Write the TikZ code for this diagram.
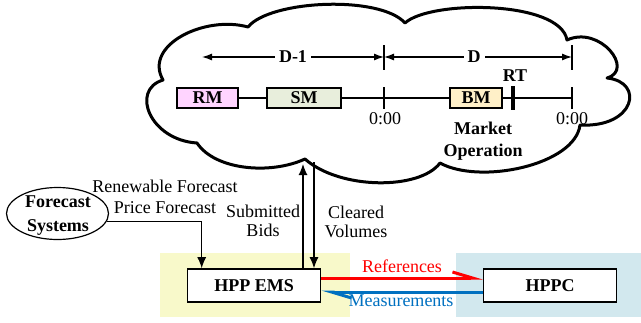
\documentclass[tikz,border=0pt]{standalone}
\usepackage{fontspec}
\setmainfont{Liberation Serif}
\usepackage{tikz}
\usetikzlibrary{arrows.meta,shapes.geometric,calc}

\definecolor{rmpink}{RGB}{255,212,255}
\definecolor{smgreen}{RGB}{232,238,220}
\definecolor{bmgold}{RGB}{255,240,200}
\definecolor{emsyellow}{RGB}{248,249,202}
\definecolor{hppcblue}{RGB}{210,232,238}
\definecolor{measblue}{RGB}{0,112,192}

\begin{document}
\begin{tikzpicture}[x=0.5pt, y=-0.5pt, font=\fontsize{9}{11}\selectfont,
    mkt/.style={draw, line width=0.6pt, minimum height=10pt, inner sep=0pt, font=\fontsize{9}{11}\selectfont\bfseries},
    unit/.style={draw, line width=0.8pt, fill=white, minimum width=66.5pt, minimum height=16.5pt, font=\fontsize{9}{11}\selectfont\bfseries},
    arr/.style={-{Latex[length=5.5pt,width=4.5pt]}, line width=0.6pt},
    dim/.style={{Latex[length=5pt,width=3.5pt]}-{Latex[length=5pt,width=3.5pt]}, line width=0.6pt},
    sig/.style={line width=1.5pt, -{Straight Barb[left,length=10pt,width=6pt]}},
    lbl/.style={align=center, font=\fontsize{9}{9.5}\selectfont}]
    \useasboundingbox (0,0) rectangle (641,322);
    \fill[emsyellow] (160,253) rectangle (350,317);
    \fill[hppcblue] (456,253) rectangle (641,317);

    % market cloud
    \draw[line width=1.5pt, line join=round, fill=white] (163,80)
        .. controls (143,45) and (205,15) .. (248,27)
        .. controls (270,0) and (380,-5) .. (405,23)
        .. controls (430,0) and (560,0) .. (567,40)
        .. controls (600,25) and (635,70) .. (607,78)
        .. controls (645,82) and (635,128) .. (580,125)
        .. controls (575,165) and (480,185) .. (440,163)
        .. controls (420,190) and (340,190) .. (305,159)
        .. controls (270,175) and (215,170) .. (197,143)
        .. controls (150,140) and (130,90) .. (163,80) -- cycle;

    % time line
    \node[mkt, fill=rmpink, minimum width=30.5pt] (rm) at (207.5,98) {RM};
    \node[mkt, fill=smgreen, minimum width=37pt] (sm) at (304,98) {SM};
    \node[mkt, fill=bmgold, minimum width=26pt] (bm) at (476,98) {BM};
    \coordinate (mid) at (384,98);
    \coordinate (rt) at (513,98);
    \coordinate (fin) at (572,98);
    \draw[line width=0.6pt] (rm) -- (sm) -- (bm) -- (fin);
    \draw[line width=0.6pt] ($(mid)+(0,-11)$) -- ($(mid)+(0,11)$);
    \draw[line width=0.6pt] ($(fin)+(0,-11)$) -- ($(fin)+(0,11)$);
    \draw[line width=1.6pt] ($(rt)+(0,-12)$) -- ($(rt)+(0,12)$);
    \node[font=\fontsize{9}{11}\selectfont\bfseries] (rtlbl) at (515,76) {RT};
    \node (zero1) at (385,119) {0:00};
    \node (zero2) at (572,119) {0:00};
    \node[align=center, font=\fontsize{9}{11}\selectfont\bfseries] (oper) at (483,141) {Market\\Operation};

    % days
    \coordinate (d0) at (202,57);
    \coordinate (d1) at (384,57);
    \coordinate (d2) at (572,57);
    \draw[line width=0.6pt] ($(d1)+(0,-12)$) -- ($(d1)+(0,13)$);
    \draw[line width=0.6pt] ($(d2)+(0,-12)$) -- ($(d2)+(0,13)$);
    \draw[dim] (d0) -- (d1) node[pos=0.5, fill=white, inner sep=2pt, font=\fontsize{9}{11}\selectfont\bfseries] (dm1) {D-1};
    \draw[dim] (d1) -- (d2) node[pos=0.48, fill=white, inner sep=2pt, font=\fontsize{9}{11}\selectfont\bfseries] (dd) {D};

    % plant side
    \node[draw, ellipse, line width=0.6pt, minimum width=51pt, minimum height=26pt, inner sep=0pt] (fcst) at (57.5,213.5) {};
    \node[align=center, font=\fontsize{9}{11}\selectfont\bfseries] (fcsttxt) at (58,216) {Forecast\\[1pt]Systems};
    \node[unit] (ems) at (254,285.5) {HPP EMS};
    \node[unit] (hppc) at (550,285.5) {HPPC};

    \node (ren) at (165,186) {Renewable Forecast};
    \node (price) at (165,208) {Price Forecast};
    \draw[arr] (fcst.-9) -| ([xshift=7.5pt]ems.north west);

    \coordinate (bidtop) at (303,164);
    \coordinate (clrtop) at (314,162);
    \draw[arr] (ems.north -| bidtop) -- (bidtop);
    \draw[arr] (clrtop) -- (ems.north -| clrtop);
    \node[lbl] (bids) at (263,221) {Submitted\\Bids};
    \node[lbl] (clr) at (356,222) {Cleared\\Volumes};

    \draw[sig, red] ([yshift=3.75pt]ems.east) -- ([yshift=3.75pt]hppc.west);
    \draw[sig, measblue] ([yshift=-3.25pt]hppc.west) -- ([yshift=-3.25pt]ems.east);
    \node[text=red] (refs) at (402,266) {References};
    \node[text=measblue] (meas) at (401,301) {Measurements};
\end{tikzpicture}
\end{document}
